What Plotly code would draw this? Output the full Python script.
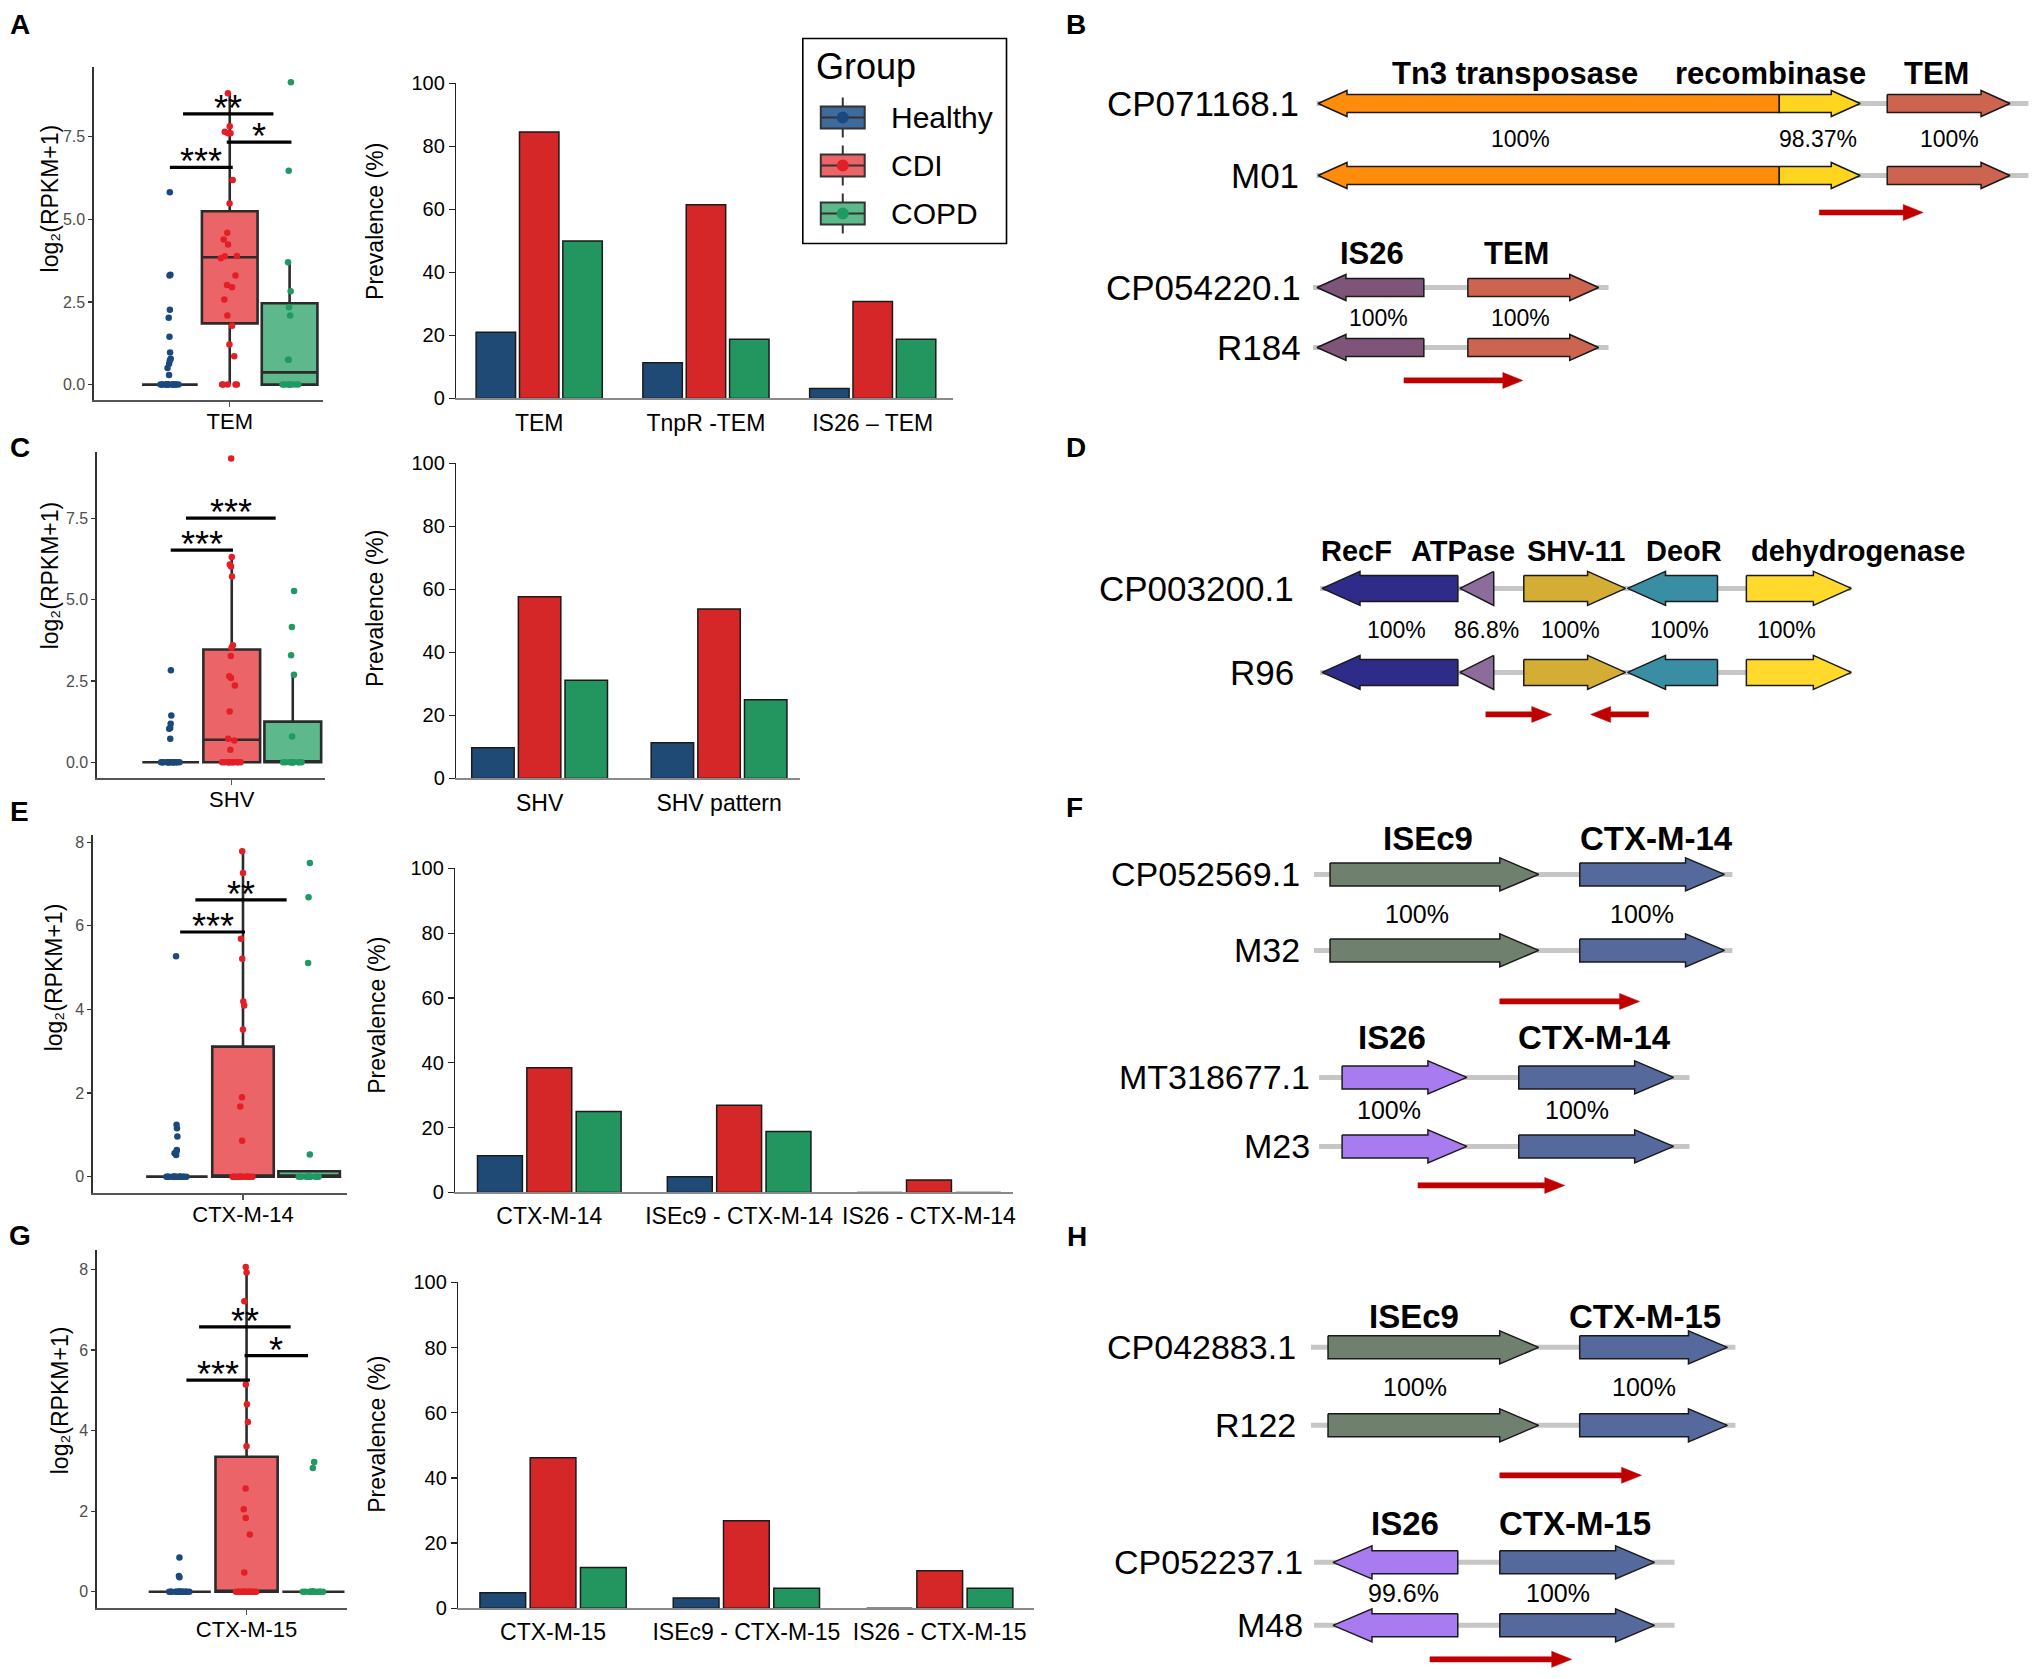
import plotly.graph_objects as go

W, H = 2033, 1679
FONT = "Liberation Sans, Arial, Helvetica, sans-serif"
GROUPS = ["Healthy", "CDI", "COPD"]
# vertical calibration of the photographed page (target y = V_OFF + V_SCALE * page y)
V_OFF, V_SCALE = 10.5, 0.987

# ======================= DATA =======================
# ---- Panel A : TEM ----
A_GENE = "TEM"
A_HEALTHY = [5.82, 3.32, 3.30, 2.26, 2.02, 1.45, 0.97, 0.78, 0.73, 0.63, 0.50, 0.29,
             0, 0, 0, 0, 0, 0, 0, 0, 0, 0, 0, 0, 0, 0, 0, 0]
A_CDI = [8.81, 7.81, 7.65, 7.60, 7.60, 6.19, 5.48, 4.59, 4.39, 4.24, 3.89, 3.88, 3.82,
         3.30, 3.01, 2.94, 2.57, 2.09, 1.78, 1.21, 0.86, 0, 0, 0, 0, 0]
A_COPD = [9.14, 6.47, 3.70, 2.82, 2.34, 2.09, 0.75, 0.75, 0, 0, 0, 0, 0, 0, 0, 0]
A_Q1 = [0, 1.85, 0]
A_MEDIAN = [0, 3.85, 0.37]
A_Q3 = [0, 5.24, 2.46]
A_LOWER = [0, 0, 0]
A_UPPER = [0, 8.79, 3.70]
A_SIG_X0 = [1.0, 1.22, 1.95]
A_SIG_X1 = [2.05, 2.73, 3.03]
A_SIG_Y = [6.57, 8.19, 7.33]
A_SIG_TEXT = ["***", "**", "*"]
A_CATS = ["TEM", "TnpR -TEM", "IS26 \u2013 TEM"]
A_PREV_HEALTHY = [21.0, 11.3, 3.2]
A_PREV_CDI = [84.6, 61.5, 30.8]
A_PREV_COPD = [50.0, 18.8, 18.8]

# ---- Panel C : SHV ----
C_GENE = "SHV"
C_HEALTHY = [2.83, 1.44, 1.18, 1.05, 1.03, 0.72,
             0, 0, 0, 0, 0, 0, 0, 0, 0, 0, 0, 0, 0, 0, 0, 0]
C_CDI = [9.35, 6.32, 6.09, 6.03, 5.72, 3.60, 3.53, 3.27, 2.65, 2.59, 2.36, 1.56, 0.72,
         0.67, 0.38, 0, 0, 0, 0, 0, 0, 0, 0, 0, 0, 0]
C_COPD = [5.27, 4.16, 3.29, 2.69, 0.79, 0, 0, 0, 0, 0, 0, 0, 0, 0, 0, 0]
C_Q1 = [0, 0, 0]
C_MEDIAN = [0, 0.69, 0]
C_Q3 = [0, 3.47, 1.25]
C_LOWER = [0, 0, 0]
C_UPPER = [0, 6.32, 2.69]
C_SIG_X0 = [1.0, 1.25]
C_SIG_X1 = [2.02, 2.72]
C_SIG_Y = [6.53, 7.52]
C_SIG_TEXT = ["***", "***"]
C_CATS = ["SHV", "SHV pattern"]
C_PREV_HEALTHY = [9.7, 11.3]
C_PREV_CDI = [57.7, 53.8]
C_PREV_COPD = [31.2, 25.0]

# ---- Panel E : CTX-M-14 ----
E_GENE = "CTX-M-14"
E_HEALTHY = [5.27, 1.24, 1.16, 0.96, 0.64, 0.60, 0.56, 0.52,
             0, 0, 0, 0, 0, 0, 0, 0, 0, 0, 0, 0, 0, 0, 0, 0]
E_CDI = [7.78, 7.26, 5.69, 5.21, 4.19, 4.09, 3.52, 1.90, 1.68, 0.86,
         0, 0, 0, 0, 0, 0, 0, 0, 0, 0, 0, 0, 0, 0, 0, 0]
E_COPD = [7.50, 6.68, 5.11, 0.53, 0, 0, 0, 0, 0, 0, 0, 0, 0, 0, 0, 0]
E_Q1 = [0, 0, 0]
E_MEDIAN = [0, 0, 0]
E_Q3 = [0, 3.11, 0.13]
E_LOWER = [0, 0, 0]
E_UPPER = [0, 7.76, 0.13]
E_SIG_X0 = [1.05, 1.28]
E_SIG_X1 = [2.03, 2.66]
E_SIG_Y = [5.85, 6.62]
E_SIG_TEXT = ["***", "**"]
E_CATS = ["CTX-M-14", "ISEc9 - CTX-M-14", "IS26 - CTX-M-14"]
E_PREV_HEALTHY = [11.3, 4.8, 0.0]
E_PREV_CDI = [38.5, 26.9, 3.8]
E_PREV_COPD = [25.0, 18.8, 0.0]

# ---- Panel G : CTX-M-15 ----
G_GENE = "CTX-M-15"
G_HEALTHY = [0.85, 0.39, 0.36,
             0, 0, 0, 0, 0, 0, 0, 0, 0, 0, 0, 0, 0, 0, 0, 0]
G_CDI = [8.06, 7.92, 7.21, 5.14, 4.65, 4.21, 3.61, 2.56, 2.05, 1.83, 1.42, 0.48,
         0, 0, 0, 0, 0, 0, 0, 0, 0, 0, 0, 0, 0, 0]
G_COPD = [3.22, 3.07, 0, 0, 0, 0, 0, 0, 0, 0, 0, 0, 0, 0, 0, 0]
G_Q1 = [0, 0, 0]
G_MEDIAN = [0, 0, 0]
G_Q3 = [0, 3.35, 0]
G_LOWER = [0, 0, 0]
G_UPPER = [0, 8.06, 0]
G_SIG_X0 = [1.10, 1.29, 1.97]
G_SIG_X1 = [2.05, 2.66, 2.92]
G_SIG_Y = [5.25, 6.57, 5.86]
G_SIG_TEXT = ["***", "**", "*"]
G_CATS = ["CTX-M-15", "ISEc9 - CTX-M-15", "IS26 - CTX-M-15"]
G_PREV_HEALTHY = [4.8, 3.2, 0.0]
G_PREV_CDI = [46.2, 26.9, 11.5]
G_PREV_COPD = [12.5, 6.2, 6.2]

# ---- Gene maps (positions in bp) ----
B1_SEQS = ["CP071168.1", "M01"]
B1_GENES = ["Tn3 transposase", "recombinase", "TEM"]
B1_START = [0, 3039, 3750]
B1_END = [3039, 3572, 4559]
B1_STRAND = [-1, 1, 1]
B1_IDENT = ["100%", "98.37%", "100%"]
B1_BACKBONE = [-10, 4680]
B1_PRIMERS = [(3303, 3987, 1)]

B2_SEQS = ["CP054220.1", "R184"]
B2_GENES = ["IS26", "TEM"]
B2_START = [-7, 987]
B2_END = [697, 1849]
B2_STRAND = [-1, 1]
B2_IDENT = ["100%", "100%"]
B2_BACKBONE = [-33, 1914]
B2_PRIMERS = [(566, 1349, 1)]

D_SEQS = ["CP003200.1", "R96"]
D_GENES = ["RecF", "ATPase", "SHV-11", "DeoR", "dehydrogenase"]
D_START = [0, 1165, 1705, 2582, 3586]
D_END = [1148, 1451, 2565, 3342, 4473]
D_STRAND = [-1, -1, 1, -1, 1]
D_IDENT = ["100%", "86.8%", "100%", "100%", "100%"]
D_BACKBONE = [-17, 4473]
D_PRIMERS = [(1384, 1941, 1), (2270, 2759, -1)]

F1_SEQS = ["CP052569.1", "M32"]
F1_GENES = ["ISEc9", "CTX-M-14"]
F1_START = [0, 1511]
F1_END = [1263, 2387]
F1_STRAND = [1, 1]
F1_IDENT = ["100%", "100%"]
F1_BACKBONE = [-97, 2435]
F1_PRIMERS = [(1027, 1873, 1)]

F2_SEQS = ["MT318677.1", "M23"]
F2_GENES = ["IS26", "CTX-M-14"]
F2_START = [73, 1142]
F2_END = [828, 2079]
F2_STRAND = [1, 1]
F2_IDENT = ["100%", "100%"]
F2_BACKBONE = [-66, 2175]
F2_PRIMERS = [(532, 1420, 1)]

H1_SEQS = ["CP042883.1", "R122"]
H1_GENES = ["ISEc9", "CTX-M-15"]
H1_START = [0, 1509]
H1_END = [1263, 2395]
H1_STRAND = [1, 1]
H1_IDENT = ["100%", "100%"]
H1_BACKBONE = [-102, 2443]
H1_PRIMERS = [(1030, 1880, 1)]

H2_SEQS = ["CP052237.1", "M48"]
H2_GENES = ["IS26", "CTX-M-15"]
H2_START = [30, 1030]
H2_END = [778, 1958]
H2_STRAND = [-1, 1]
H2_IDENT = ["99.6%", "100%"]
H2_BACKBONE = [-84, 2078]
H2_PRIMERS = [(611, 1461, 1)]

# ======================= STYLE / LAYOUT =======================
POINT_COLORS = ["#1B497E", "#E41E26", "#1E9A62"]
BOX_FILLS = ["#3F6A9C", "#EB6468", "#5DB88B"]
BAR_COLORS = ["#1F4A76", "#D62728", "#23965F"]
EDGE = "#2B2B2B"
BOX_WIDTH = 0.93
BACKBONE_COLOR = "#C6C6C6"
PRIMER_COLOR = "#C00000"
BOX_YTITLE = "log\u2082(RPKM+1)"


def px(x):
    return x / W


def py(t):
    page = (t - V_OFF) / V_SCALE
    return 1 - page / H


def aname(n, a):
    return f"{a}axis" if n == 1 else f"{a}axis{n}"


def aref(n, a):
    return a if n == 1 else f"{a}{n}"


fig = go.Figure()
annotations = []
shapes = []
layout = {}

ROWS = [
    dict(letter="A", lpos=(20, 24), gene=A_GENE, pts=[A_HEALTHY, A_CDI, A_COPD],
         q1=A_Q1, med=A_MEDIAN, q3=A_Q3, lo=A_LOWER, hi=A_UPPER,
         sig=(A_SIG_X0, A_SIG_X1, A_SIG_Y, A_SIG_TEXT), cats=A_CATS,
         prev=[A_PREV_HEALTHY, A_PREV_CDI, A_PREV_COPD],
         yt=[0, 2.5, 5, 7.5], ytt=["0.0", "2.5", "5.0", "7.5"],
         box_dom=(94, 323, 67, 400), box_xr=[-0.27, 3.55], box_yr=[-0.48, 9.59],
         bar_dom=(457, 954, 83, 398), bar_xr=[-0.497, 2.479],
         ytitle_box=(51, 198), ytitle_bar=(376, 221)),
    dict(letter="C", lpos=(20, 447), gene=C_GENE, pts=[C_HEALTHY, C_CDI, C_COPD],
         q1=C_Q1, med=C_MEDIAN, q3=C_Q3, lo=C_LOWER, hi=C_UPPER,
         sig=(C_SIG_X0, C_SIG_X1, C_SIG_Y, C_SIG_TEXT), cats=C_CATS,
         prev=[C_PREV_HEALTHY, C_PREV_CDI, C_PREV_COPD],
         yt=[0, 2.5, 5, 7.5], ytt=["0.0", "2.5", "5.0", "7.5"],
         box_dom=(97, 325, 452, 778), box_xr=[-0.21, 3.52], box_yr=[-0.50, 9.54],
         bar_dom=(457, 801, 463, 778), bar_xr=[-0.464, 1.45],
         ytitle_box=(51, 575), ytitle_bar=(376, 608)),
    dict(letter="E", lpos=(20, 811), gene=E_GENE, pts=[E_HEALTHY, E_CDI, E_COPD],
         q1=E_Q1, med=E_MEDIAN, q3=E_Q3, lo=E_LOWER, hi=E_UPPER,
         sig=(E_SIG_X0, E_SIG_X1, E_SIG_Y, E_SIG_TEXT), cats=E_CATS,
         prev=[E_PREV_HEALTHY, E_PREV_CDI, E_PREV_COPD],
         yt=[0, 2, 4, 6, 8], ytt=["0", "2", "4", "6", "8"],
         box_dom=(93, 348, 835, 1193), box_xr=[-0.27, 3.58], box_yr=[-0.40, 8.16],
         bar_dom=(456, 1014, 868, 1192), bar_xr=[-0.495, 2.44],
         ytitle_box=(54, 977), ytitle_bar=(378, 1015)),
    dict(letter="G", lpos=(20, 1235), gene=G_GENE, pts=[G_HEALTHY, G_CDI, G_COPD],
         q1=G_Q1, med=G_MEDIAN, q3=G_Q3, lo=G_LOWER, hi=G_UPPER,
         sig=(G_SIG_X0, G_SIG_X1, G_SIG_Y, G_SIG_TEXT), cats=G_CATS,
         prev=[G_PREV_HEALTHY, G_PREV_CDI, G_PREV_COPD],
         yt=[0, 2, 4, 6, 8], ytt=["0", "2", "4", "6", "8"],
         box_dom=(97, 348, 1250, 1608), box_xr=[-0.24, 3.51], box_yr=[-0.41, 8.47],
         bar_dom=(459, 1036, 1282, 1608), bar_xr=[-0.49, 2.49],
         ytitle_box=(60, 1400), ytitle_bar=(378, 1434)),
]


def letter(text, x, y):
    annotations.append(dict(text=text, x=px(x), y=py(y), xref="paper", yref="paper",
                            showarrow=False, xanchor="center", yanchor="middle",
                            font=dict(family=FONT, size=28, color="black", weight="bold")))


for r, R in enumerate(ROWS):
    bn = 2 * r + 1
    cn = 2 * r + 2
    bx, by = aref(bn, "x"), aref(bn, "y")
    cx, cy = aref(cn, "x"), aref(cn, "y")
    letter(R["letter"], *R["lpos"])

    # --- box plot ---
    for i in range(3):
        fig.add_trace(go.Box(x=[i + 1], q1=[R["q1"][i]], median=[R["med"][i]], q3=[R["q3"][i]],
                             lowerfence=[R["lo"][i]], upperfence=[R["hi"][i]],
                             width=BOX_WIDTH, fillcolor=BOX_FILLS[i],
                             line=dict(color=EDGE, width=2.6), whiskerwidth=0,
                             boxpoints=False, xaxis=bx, yaxis=by, showlegend=False,
                             hoverinfo="skip"))
    for i in range(3):
        fig.add_trace(go.Box(y=R["pts"][i], x0=i + 1, boxpoints="all", jitter=0.4, pointpos=0,
                             width=BOX_WIDTH, fillcolor="rgba(0,0,0,0)",
                             line=dict(color="rgba(0,0,0,0)", width=0), whiskerwidth=0,
                             marker=dict(color=POINT_COLORS[i], size=6.5),
                             xaxis=bx, yaxis=by, showlegend=False, hoverinfo="skip"))
    sx0, sx1, sy, st = R["sig"]
    xs, ys = [], []
    for a, b, yv, t in zip(sx0, sx1, sy, st):
        xs += [a, b, None]
        ys += [yv, yv, None]
        annotations.append(dict(text=t, x=(a + b) / 2, y=yv, xref=bx, yref=by, showarrow=False,
                                xanchor="center", yanchor="bottom", yshift=-17,
                                font=dict(family=FONT, size=36, color="black")))
    fig.add_trace(go.Scatter(x=xs, y=ys, mode="lines", line=dict(color="black", width=3.2),
                             xaxis=bx, yaxis=by, showlegend=False, hoverinfo="skip"))

    x0, x1, yt, yb = R["box_dom"]
    layout[aname(bn, "x")] = dict(domain=[px(x0), px(x1)], range=R["box_xr"], anchor=by,
                                  showline=True, linecolor="#555555", linewidth=1.5,
                                  ticks="outside", ticklen=5, tickwidth=1.3, tickcolor="#555555",
                                  ticklabelstandoff=-4,
                                  tickvals=[2], ticktext=[R["gene"]],
                                  tickfont=dict(family=FONT, size=22, color="black"),
                                  showgrid=False, zeroline=False, fixedrange=True)
    layout[aname(bn, "y")] = dict(domain=[py(yb), py(yt)], range=R["box_yr"], anchor=bx,
                                  showline=True, linecolor="#333333", linewidth=1.5,
                                  ticks="outside", ticklen=4, tickwidth=1.2, tickcolor="#333333",
                                  tickvals=R["yt"], ticktext=R["ytt"],
                                  tickfont=dict(family=FONT, size=16, color="#4D4D4D"),
                                  showgrid=False, zeroline=False, fixedrange=True)
    tx, ty = R["ytitle_box"]
    annotations.append(dict(text=BOX_YTITLE, x=px(tx), y=py(ty), xref="paper",
                            yref="paper", showarrow=False, textangle=-90, xanchor="center",
                            yanchor="middle", font=dict(family=FONT, size=23, color="black")))

    # --- prevalence bars ---
    for i in range(3):
        fig.add_trace(go.Bar(x=R["cats"], y=R["prev"][i], name=GROUPS[i],
                             marker=dict(color=BAR_COLORS[i], line=dict(color="#1A1A1A", width=1.5)),
                             xaxis=cx, yaxis=cy, showlegend=False, hoverinfo="skip"))
    x0, x1, yt, yb = R["bar_dom"]
    layout[aname(cn, "x")] = dict(domain=[px(x0), px(x1)], range=R["bar_xr"], anchor=cy,
                                  type="category", showline=True, linecolor="#8A8A8A",
                                  linewidth=1.5, ticks="", ticklabelstandoff=3,
                                  tickfont=dict(family=FONT, size=23, color="black"),
                                  showgrid=False, zeroline=False, fixedrange=True)
    layout[aname(cn, "y")] = dict(domain=[py(yb), py(yt)], range=[0, 100], anchor=cx,
                                  showline=True, linecolor="#222222", linewidth=1.5,
                                  ticks="outside", ticklen=6, tickwidth=1.3, tickcolor="#222222",
                                  tickvals=[0, 20, 40, 60, 80, 100],
                                  tickfont=dict(family=FONT, size=20, color="black"),
                                  showgrid=False, zeroline=False, fixedrange=True)
    tx, ty = R["ytitle_bar"]
    annotations.append(dict(text="Prevalence (%)", x=px(tx), y=py(ty), xref="paper",
                            yref="paper", showarrow=False, textangle=-90, xanchor="center",
                            yanchor="middle", font=dict(family=FONT, size=23, color="black")))

# ---------------- Legend (manual, ggplot style) ----------------
LEG = dict(box=(804, 38, 1008, 243), title=(815, 66), keys_y=[117, 165, 213], key_x=844,
           label_x=890)
bx0, by0, bx1, by1 = LEG["box"]
shapes.append(dict(type="rect", xref="paper", yref="paper", x0=px(bx0), x1=px(bx1),
                   y0=py(by1), y1=py(by0), line=dict(color="black", width=1.6),
                   fillcolor="white"))
annotations.append(dict(text="Group", x=px(LEG["title"][0]), y=py(LEG["title"][1]), xref="paper",
                        yref="paper", showarrow=False, xanchor="left", yanchor="middle",
                        font=dict(family=FONT, size=36, color="black")))
for i, g in enumerate(GROUPS):
    ky = LEG["keys_y"][i]
    kx = LEG["key_x"]
    shapes.append(dict(type="line", xref="paper", yref="paper", x0=px(kx), x1=px(kx),
                       y0=py(ky + 20), y1=py(ky - 20), line=dict(color="#333333", width=2)))
    shapes.append(dict(type="rect", xref="paper", yref="paper", x0=px(kx - 22), x1=px(kx + 22),
                       y0=py(ky + 11), y1=py(ky - 11), fillcolor=BOX_FILLS[i],
                       line=dict(color="#333333", width=2)))
    shapes.append(dict(type="line", xref="paper", yref="paper", x0=px(kx - 22), x1=px(kx + 22),
                       y0=py(ky), y1=py(ky), line=dict(color="#333333", width=2)))
    shapes.append(dict(type="circle", xref="paper", yref="paper", x0=px(kx - 6), x1=px(kx + 6),
                       y0=py(ky + 6), y1=py(ky - 6), fillcolor=POINT_COLORS[i],
                       line=dict(width=0)))
    annotations.append(dict(text=g, x=px(LEG["label_x"]), y=py(ky), xref="paper", yref="paper",
                            showarrow=False, xanchor="left", yanchor="middle",
                            font=dict(family=FONT, size=30, color="black")))


# ---------------- Gene maps ----------------
def gene_poly(s, e, strand, y, head_bp, hh, bh):
    if strand > 0:
        hb = max(s, e - head_bp)
        if hb <= s:
            return [s, e, s, s], [y - hh, y, y + hh, y - hh]
        return ([s, hb, hb, e, hb, hb, s, s],
                [y - bh, y - bh, y - hh, y, y + hh, y + bh, y + bh, y - bh])
    hb = min(e, s + head_bp)
    if hb >= e:
        return [e, s, e, e], [y - hh, y, y + hh, y - hh]
    return ([e, hb, hb, s, hb, hb, e, e],
            [y - bh, y - bh, y - hh, y, y + hh, y + bh, y + bh, y - bh])


GENE_PANELS = [
    dict(n=9, letter="B", lpos=(1078, 24), origin=1320, scale=0.152, head=29, hh=13, bh=9,
         seq_font=35, gene_font=31, ident_font=23,
         loci=[
             dict(seqs=B1_SEQS, genes=B1_GENES, start=B1_START, end=B1_END, strand=B1_STRAND,
                  ident=B1_IDENT, backbone=B1_BACKBONE, primers=B1_PRIMERS,
                  colors=["#FF8C0A", "#FFD520", "#CC6450"],
                  rows=[103, 175], label_y=73, label_x=[1296, 2980, 4072],
                  ident_y=139, ident_x=[1336, 3296, 4158], primer_y=212, seq_x=-112),
             dict(seqs=B2_SEQS, genes=B2_GENES, start=B2_START, end=B2_END, strand=B2_STRAND,
                  ident=B2_IDENT, backbone=B2_BACKBONE, primers=B2_PRIMERS,
                  colors=["#7E5479", "#CC6450"],
                  rows=[287, 347], label_y=253, label_x=[355, 1309],
                  ident_y=318, ident_x=[395, 1336], primer_y=380, seq_x=-100),
         ]),
    dict(n=10, letter="D", lpos=(1078, 447), origin=1324, scale=0.1185, head=38, hh=17, bh=13,
         seq_font=35, gene_font=29, ident_font=23,
         loci=[
             dict(seqs=D_SEQS, genes=D_GENES, start=D_START, end=D_END, strand=D_STRAND,
                  ident=D_IDENT, backbone=D_BACKBONE, primers=D_PRIMERS,
                  colors=["#2E2C88", "#8C6C9B", "#D4AE34", "#3A8EA4", "#FFDA2C"],
                  rows=[588, 672], label_y=551, label_x=[295, 1190, 2143, 3055, 4532],
                  ident_y=630, ident_x=[633, 1392, 2101, 3021, 3924], primer_y=714, seq_x=-219),
         ]),
    dict(n=11, letter="F", lpos=(1076, 807), origin=1332, scale=0.1655, head=39, hh=16.5, bh=11.5,
         seq_font=34, gene_font=33, ident_font=25,
         loci=[
             dict(seqs=F1_SEQS, genes=F1_GENES, start=F1_START, end=F1_END, strand=F1_STRAND,
                  ident=F1_IDENT, backbone=F1_BACKBONE, primers=F1_PRIMERS,
                  colors=["#6F806F", "#56699D"],
                  rows=[874, 950], label_y=838, label_x=[592, 1976],
                  ident_y=914, ident_x=[526, 1885], primer_y=1001, seq_x=-169),
             dict(seqs=F2_SEQS, genes=F2_GENES, start=F2_START, end=F2_END, strand=F2_STRAND,
                  ident=F2_IDENT, backbone=F2_BACKBONE, primers=F2_PRIMERS,
                  colors=["#A87CF0", "#56699D"],
                  rows=[1077, 1146], label_y=1037, label_x=[375, 1601],
                  ident_y=1110, ident_x=[356, 1492], primer_y=1185, seq_x=-109),
         ]),
    dict(n=12, letter="H", lpos=(1079, 1236), origin=1330, scale=0.167, head=39, hh=16.5, bh=11.5,
         seq_font=34, gene_font=33, ident_font=25,
         loci=[
             dict(seqs=H1_SEQS, genes=H1_GENES, start=H1_START, end=H1_END, strand=H1_STRAND,
                  ident=H1_IDENT, backbone=H1_BACKBONE, primers=H1_PRIMERS,
                  colors=["#6F806F", "#56699D"],
                  rows=[1347, 1425], label_y=1316, label_x=[515, 1898],
                  ident_y=1387, ident_x=[521, 1892], primer_y=1475, seq_x=-180),
             dict(seqs=H2_SEQS, genes=H2_GENES, start=H2_START, end=H2_END, strand=H2_STRAND,
                  ident=H2_IDENT, backbone=H2_BACKBONE, primers=H2_PRIMERS,
                  colors=["#A87CF0", "#56699D"],
                  rows=[1562, 1625], label_y=1523, label_x=[461, 1479],
                  ident_y=1593, ident_x=[455, 1377], primer_y=1659, seq_x=-138),
         ]),
]

GENE_X_LEFT = 1150
for P in GENE_PANELS:
    n = P["n"]
    xa, ya = aref(n, "x"), aref(n, "y")
    letter(P["letter"], *P["lpos"])
    layout[aname(n, "x")] = dict(domain=[px(GENE_X_LEFT), 1],
                                 range=[(GENE_X_LEFT - P["origin"]) / P["scale"],
                                        (W - P["origin"]) / P["scale"]],
                                 showline=False, showgrid=False, zeroline=False,
                                 showticklabels=False, ticks="", fixedrange=True, anchor=ya)
    layout[aname(n, "y")] = dict(domain=[0, 1], range=[V_OFF + V_SCALE * H, V_OFF],
                                 showline=False, showgrid=False, zeroline=False,
                                 showticklabels=False, ticks="", fixedrange=True, anchor=xa)
    head_bp = P["head"] / P["scale"]
    for L in P["loci"]:
        for seq, yrow in zip(L["seqs"], L["rows"]):
            fig.add_trace(go.Scatter(x=L["backbone"], y=[yrow, yrow], mode="lines",
                                     line=dict(color=BACKBONE_COLOR, width=5),
                                     xaxis=xa, yaxis=ya, showlegend=False, hoverinfo="skip"))
            for s, e, st, col in zip(L["start"], L["end"], L["strand"], L["colors"]):
                gx, gy = gene_poly(s, e, st, yrow, head_bp, P["hh"], P["bh"])
                fig.add_trace(go.Scatter(x=gx, y=gy, mode="lines", fill="toself",
                                         fillcolor=col, line=dict(color="#1A1A1A", width=1.5),
                                         xaxis=xa, yaxis=ya, showlegend=False, hoverinfo="skip"))
            annotations.append(dict(text=seq, x=L["seq_x"], y=yrow, xref=xa, yref=ya,
                                    showarrow=False, xanchor="right", yanchor="middle",
                                    font=dict(family=FONT, size=P["seq_font"], color="black")))
        for gname, lx in zip(L["genes"], L["label_x"]):
            annotations.append(dict(text=gname, x=lx, y=L["label_y"], xref=xa, yref=ya,
                                    showarrow=False, xanchor="center", yanchor="middle",
                                    font=dict(family=FONT, size=P["gene_font"], color="black",
                                              weight="bold")))
        for idt, ix in zip(L["ident"], L["ident_x"]):
            annotations.append(dict(text=idt, x=ix, y=L["ident_y"], xref=xa, yref=ya,
                                    showarrow=False, xanchor="center", yanchor="middle",
                                    font=dict(family=FONT, size=P["ident_font"], color="black")))
        hl = 20 / P["scale"]
        yv = L["primer_y"]
        for s, e, d in L["primers"]:
            if d > 0:
                b = e - hl
                qx = [s, b, b, e, b, b, s, s]
            else:
                b = s + hl
                qx = [e, b, b, s, b, b, e, e]
            qy = [yv - 2.6, yv - 2.6, yv - 8, yv, yv + 8, yv + 2.6, yv + 2.6, yv - 2.6]
            fig.add_trace(go.Scatter(x=qx, y=qy, mode="lines", fill="toself",
                                     fillcolor=PRIMER_COLOR, line=dict(color=PRIMER_COLOR, width=0.5),
                                     xaxis=xa, yaxis=ya, showlegend=False, hoverinfo="skip"))

fig.update_layout(
    width=W, height=H, autosize=False,
    margin=dict(l=0, r=0, t=0, b=0, pad=0),
    paper_bgcolor="white", plot_bgcolor="rgba(0,0,0,0)",
    font=dict(family=FONT, color="black"),
    barmode="group", bargap=0.22, bargroupgap=0.09,
    showlegend=False,
    annotations=annotations, shapes=shapes,
    **layout,
)

fig.write_html("out.html", include_plotlyjs=True, full_html=True,
               config={"displayModeBar": False, "staticPlot": True},
               post_script="document.body.style.margin='0';document.body.style.overflow='hidden';")
